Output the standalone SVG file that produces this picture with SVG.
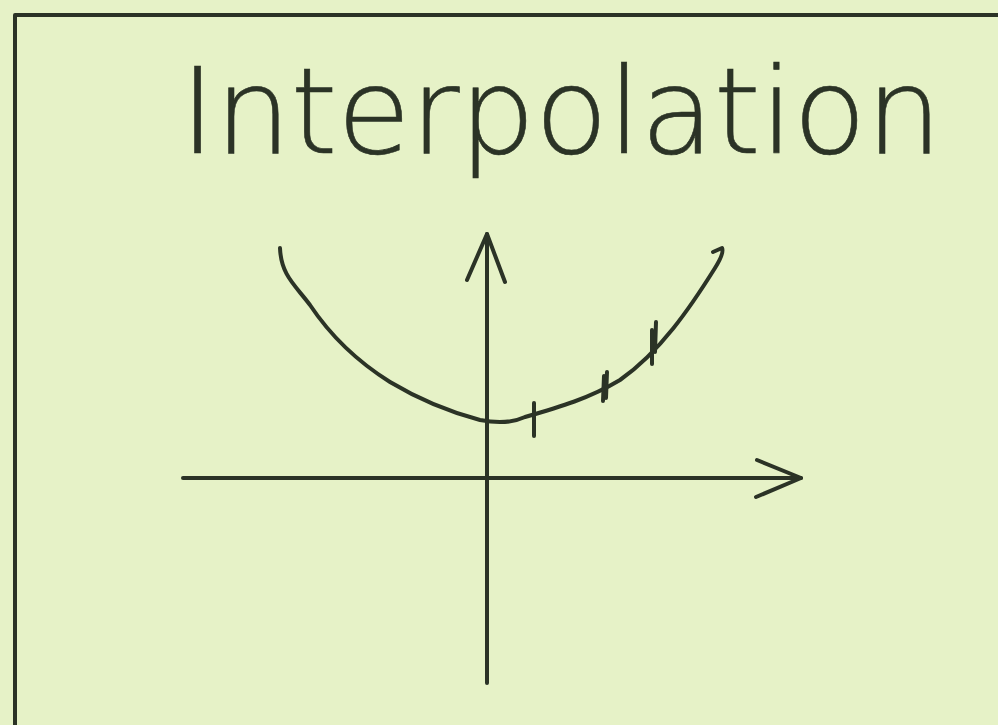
<svg xmlns="http://www.w3.org/2000/svg" width="998" height="725" viewBox="0 0 998 725">
<style>
.ink{fill:none;stroke:#2b3326;stroke-width:4;stroke-linecap:round;stroke-linejoin:round}
.title{font-family:"DejaVu Sans","Liberation Sans",sans-serif;font-size:120px;font-weight:200;fill:#2b3326;stroke:#2b3326;stroke-width:0.6}
</style>
<rect x="0" y="0" width="998" height="725" fill="#e6f2c7"/>
<g id="frame">
<path class="ink" d="M15,725 L15,15 L998,15" stroke-width="5"/>
</g>
<g id="title">
<text class="title" x="180" y="153" textLength="762" lengthAdjust="spacing">Interpolation</text>
</g>
<g id="axes">
<path class="ink" d="M487,234 L487,683"/>
<path class="ink" d="M467,280 L487,234 L505,282"/>
<path class="ink" d="M183,478 L801,478"/>
<path class="ink" d="M757,460 L801,478 L756,497"/>
</g>
<g id="curve">
<path class="ink" d="M280,248 C281,275 295,285 310,305 C330,335 355,360 390,382 C420,400 450,412 480,420 C495,423 510,424 525,417 C560,407 590,398 620,380 C660,352 690,308 715,268 C720,260 724,252 722,248 L713,252"/>
</g>
<g id="ticks">
<path class="ink" d="M534,403 L534,436"/>
<path class="ink" d="M604,376 L603,401"/>
<path class="ink" d="M607,372 L606,398"/>
<path class="ink" d="M652,330 L652,364"/>
<path class="ink" d="M656,322 L655,352"/>
</g>
</svg>
